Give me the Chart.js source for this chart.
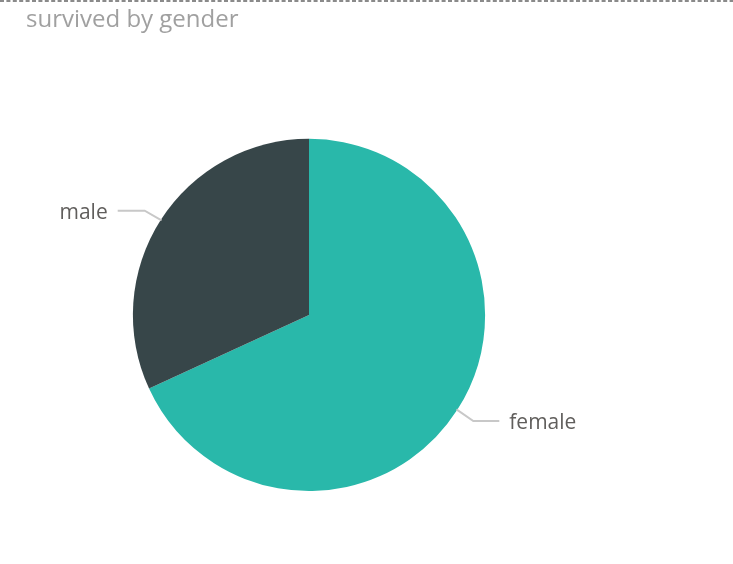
<!DOCTYPE html>
<html>
<head>
<meta charset="utf-8">
<script src="https://cdn.jsdelivr.net/npm/chart.js@4"></script>
<style>
  html, body { margin: 0; padding: 0; background: #fff; }
  #wrap { width: 733px; height: 564px; position: relative; }
</style>
</head>
<body>
<div id="wrap"><canvas id="pie"></canvas></div>
<script>
const categories = ['female', 'male'];
const survivors = [233, 109];
const sliceColors = ['#29B8AA', '#374649'];

// dotted frame line across the top + leader lines with labels
const decorations = {
  id: 'decorations',
  beforeDraw(chart) {
    const c = chart.ctx;
    c.save();
    c.strokeStyle = '#8a8a8a';
    c.lineWidth = 2;
    c.setLineDash([4, 2.4]);
    c.beginPath();
    c.moveTo(0, 1);
    c.lineTo(chart.width, 1);
    c.stroke();
    c.restore();
  },
  afterDatasetsDraw(chart) {
    const c = chart.ctx;
    const arcs = chart.getDatasetMeta(0).data;
    c.save();
    c.font = '21px "Open Sans", sans-serif';
    c.textBaseline = 'middle';
    arcs.forEach((arc, i) => {
      const p = arc.getProps(['x', 'y', 'startAngle', 'endAngle', 'outerRadius'], true);
      const mid = (p.startAngle + p.endAngle) / 2;
      const cos = Math.cos(mid), sin = Math.sin(mid);
      const x0 = p.x + cos * (p.outerRadius - 1);
      const y0 = p.y + sin * (p.outerRadius - 1);
      const x1 = p.x + cos * (p.outerRadius + 19);
      const y1 = p.y + sin * (p.outerRadius + 19) + 1;
      const right = cos >= 0;
      const x2 = x1 + (right ? 26 : -27);
      c.strokeStyle = '#c8c8c8';
      c.lineWidth = 2;
      c.beginPath();
      c.moveTo(x0, y0);
      c.lineTo(x1, y1);
      c.lineTo(x2, y1);
      c.stroke();
      c.fillStyle = '#605E5C';
      c.textAlign = right ? 'left' : 'right';
      c.fillText(categories[i], x2 + (right ? 10 : -10), y1 + 2);
    });
    c.restore();
  }
};

new Chart(document.getElementById('pie'), {
  type: 'pie',
  data: {
    labels: categories,
    datasets: [{
      data: survivors,
      backgroundColor: sliceColors,
      borderWidth: 0
    }]
  },
  options: {
    responsive: true,
    maintainAspectRatio: false,
    animation: false,
    layout: { padding: { top: 0, bottom: 73, left: 26, right: 141 } },
    plugins: {
      legend: { display: false },
      tooltip: { enabled: false },
      title: {
        display: true,
        text: 'survived by gender',
        align: 'start',
        color: '#A0A0A0',
        font: { family: '"Open Sans", sans-serif', size: 24, weight: 'normal', lineHeight: 1.2 },
        padding: { top: 6, bottom: 104 }
      }
    }
  },
  plugins: [decorations]
});
</script>
</body>
</html>
